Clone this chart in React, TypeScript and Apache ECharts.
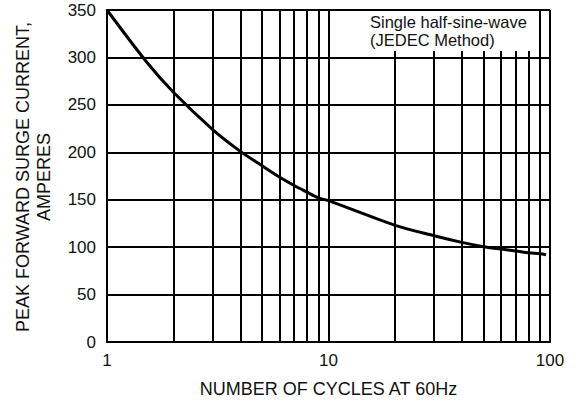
import React, { useEffect, useRef } from "react";
import * as echarts from "echarts";

const CYCLES = [1, 1.5, 2, 3, 4, 5, 6, 7, 8, 9, 10, 20, 30, 40, 50, 60, 70, 80, 90, 96];
const CURRENT = [350, 296, 263, 224, 201, 186, 174, 165, 158, 152, 149, 123, 112, 105, 100.5, 98, 96, 94, 93, 92];
const MINOR_X = [2, 3, 4, 5, 6, 7, 8, 9, 20, 30, 40, 50, 60, 70, 80, 90];
const X_TITLE = "NUMBER OF CYCLES AT 60Hz";
const Y_TITLE = "PEAK FORWARD SURGE CURRENT,\nAMPERES";
const NOTE = ["Single half-sine-wave", "(JEDEC Method)"];

const FONT = "'Liberation Sans', Arial, Helvetica, sans-serif";

export default function App() {
  const ref = useRef<HTMLDivElement>(null);
  useEffect(() => {
    if (!ref.current) return;
    const chart = echarts.init(ref.current, null, { renderer: "svg" });
    const line = { color: "#000", width: 2 };
    chart.setOption({
      animation: false,
      grid: { left: 107, right: 28, top: 10, bottom: 59, containLabel: false },
      xAxis: {
        type: "log",
        logBase: 10,
        min: 1,
        max: 100,
        name: X_TITLE,
        nameLocation: "middle",
        nameGap: 38,
        nameTextStyle: { fontFamily: FONT, fontSize: 18, color: "#111" },
        axisLine: { show: true, lineStyle: line },
        axisTick: { show: false },
        axisLabel: { fontFamily: FONT, fontSize: 17, color: "#111", margin: 10 },
        splitLine: { show: true, lineStyle: line },
        minorTick: { show: false },
        minorSplitLine: { show: false },
      },
      yAxis: {
        type: "value",
        min: 0,
        max: 350,
        interval: 50,
        axisLine: { show: true, lineStyle: line },
        axisTick: { show: false },
        axisLabel: { fontFamily: FONT, fontSize: 17, color: "#111", margin: 11 },
        splitLine: { show: true, lineStyle: line },
      },
      series: [
        {
          type: "line",
          data: CYCLES.map((c, i) => [c, CURRENT[i]]),
          smooth: 0.3,
          showSymbol: false,
          lineStyle: { color: "#000", width: 3 },
          z: 5,
          markLine: {
            silent: true,
            symbol: ["none", "none"],
            label: { show: false },
            lineStyle: { color: "#000", width: 2, type: "solid" },
            data: MINOR_X.map((v) => ({ xAxis: v })),
            z: 3,
          },
        },
      ],
      graphic: [
        {
          type: "rect",
          z: 100,
          shape: { x: 363, y: 11, width: 173, height: 40 },
          style: { fill: "#fff" },
        },
        {
          type: "text",
          z: 101,
          x: 370,
          y: 22,
          style: {
            text: NOTE[0],
            fontFamily: FONT,
            fontSize: 16.5,
            fill: "#111",
            textAlign: "left",
            textVerticalAlign: "middle",
          },
        },
        {
          type: "text",
          z: 101,
          x: 370,
          y: 39.5,
          style: {
            text: NOTE[1],
            fontFamily: FONT,
            fontSize: 16.5,
            fill: "#111",
            textAlign: "left",
            textVerticalAlign: "middle",
          },
        },
        {
          type: "text",
          z: 101,
          x: 33,
          y: 177,
          rotation: Math.PI / 2,
          style: {
            text: Y_TITLE,
            fontFamily: FONT,
            fontSize: 18,
            lineHeight: 21,
            fill: "#111",
            textAlign: "center",
            textVerticalAlign: "middle",
          },
        },
      ],
    });
    return () => chart.dispose();
  }, []);
  return (
    <div
      ref={ref}
      style={{ position: "absolute", left: 0, top: 0, width: 578, height: 403 }}
    />
  );
}
